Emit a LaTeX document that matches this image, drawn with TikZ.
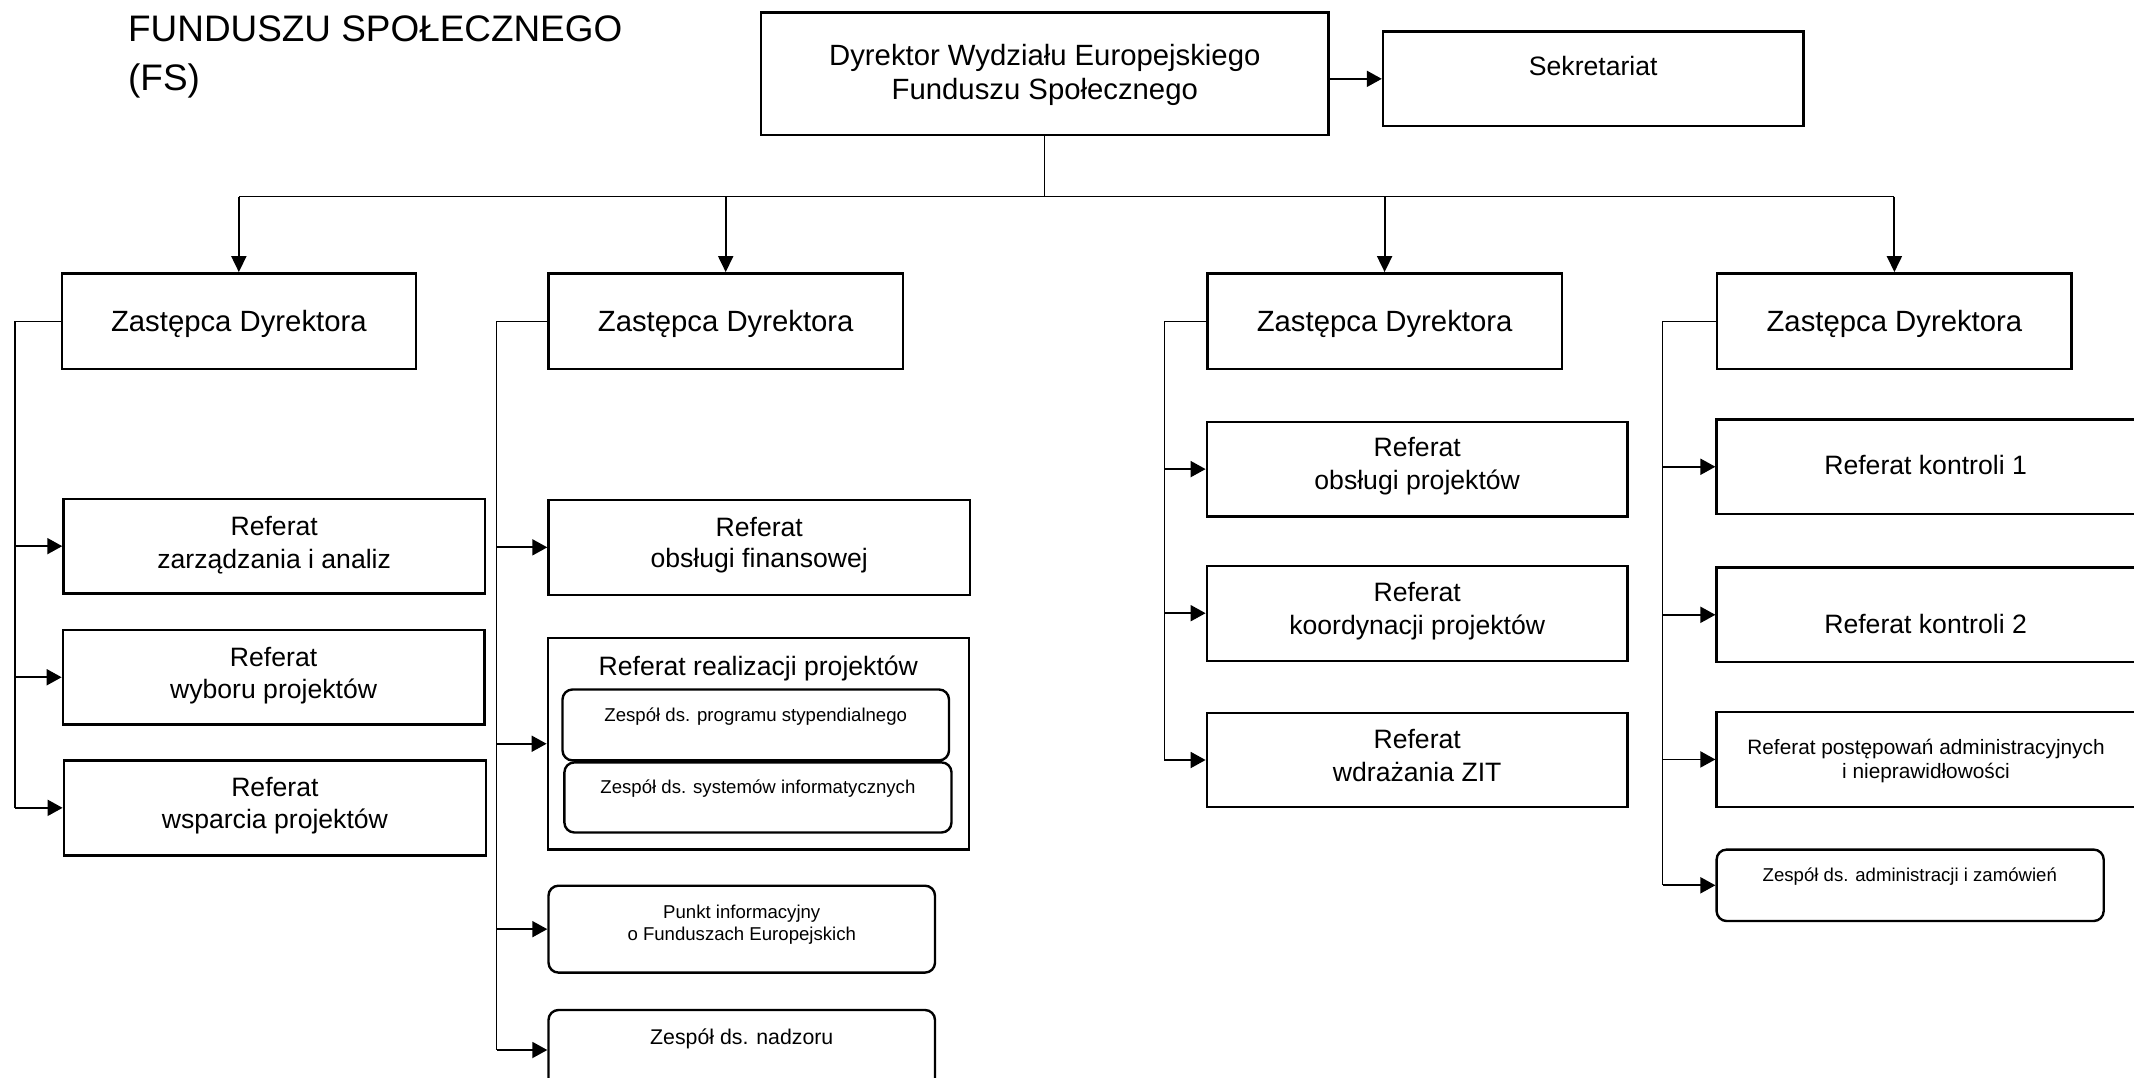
\documentclass[tikz,border=0pt]{standalone}
\usepackage{fontspec}
\setmainfont{Liberation Sans}
\usetikzlibrary{arrows.meta}
\begin{document}
\begin{tikzpicture}[x=1pt,y=-1pt,
  orgbox/.style={draw, line width=2.4pt, inner sep=0pt},
  roundbox/.style={draw, line width=2.4pt, inner sep=0pt, rounded corners=10pt},
  tline/.style={inner sep=0pt, anchor=base},
  fA/.style={font=\fontsize{29.3pt}{34pt}\selectfont},
  fB/.style={font=\fontsize{26.6pt}{31pt}\selectfont},
  fC/.style={font=\fontsize{18.6pt}{22pt}\selectfont},
  fD/.style={font=\fontsize{20.8pt}{24pt}\selectfont},
  fE/.style={font=\fontsize{21.3pt}{25pt}\selectfont},
  fT/.style={font=\fontsize{36.9pt}{43pt}\selectfont},
  thinline/.style={line width=1.3pt},
  stub/.style={line width=1.9pt, -{Triangle[length=15pt,width=16pt]}},
  drop/.style={line width=1.9pt, -{Triangle[length=16pt,width=15pt]}}
]
\useasboundingbox (0,0) rectangle (2134,1078);
\clip (0,0) rectangle (2134,1078);

% title
\node[tline, anchor=base west, fT] (title1) at (128,41.5) {FUNDUSZU SPOŁECZNEGO};
\node[tline, anchor=base west, fT] (title2) at (128,90.5) {(FS)};

% director and secretariat
\node[orgbox, minimum width=567.6pt, minimum height=122.3pt] (dir) at (1044.8,73.85) {};
\node[tline, fA] (dirt1) at (1044.8,66) {Dyrektor Wydziału Europejskiego};
\node[tline, fA] (dirt2) at (1044.8,100) {Funduszu Społecznego};
\node[orgbox, minimum width=420.5pt, minimum height=94.3pt] (sek) at (1593.25,78.85) {};
\node[tline, fB] (sekt) at (1593.25,76) {Sekretariat};

% deputies
\foreach \n/\cx in {z1/238.85, z2/725.7, z3/1384.6, z4/1894.4}{
  \node[orgbox, minimum width=354.3pt, minimum height=95.7pt] (\n) at (\cx,321.15) {};
  \node[tline, fA] (\n t) at (\cx,331.7) {Zastępca Dyrektora};
}

% column 1
\node[orgbox, minimum width=421.5pt, minimum height=94.5pt] (zarz) at (274.2,546.15) {};
\node[tline, fB] (zarzt1) at (274.2,535) {Referat};
\node[tline, fB] (zarzt2) at (274.2,568) {zarządzania i analiz};
\node[orgbox, minimum width=421.5pt, minimum height=94.1pt] (wyb) at (273.6,677.25) {};
\node[tline, fB] (wybt1) at (273.6,666.3) {Referat};
\node[tline, fB] (wybt2) at (273.6,698.3) {wyboru projektów};
\node[orgbox, minimum width=422.2pt, minimum height=94.9pt] (wsp) at (274.9,807.85) {};
\node[tline, fB] (wspt1) at (274.9,796.4) {Referat};
\node[tline, fB] (wspt2) at (274.9,828.5) {wsparcia projektów};

% column 2
\node[orgbox, minimum width=421.5pt, minimum height=95.3pt] (fin) at (759.25,547.35) {};
\node[tline, fB] (fint1) at (759.25,536.1) {Referat};
\node[tline, fB] (fint2) at (759.25,567.3) {obsługi finansowej};
\node[orgbox, minimum width=421pt, minimum height=211.1pt] (real) at (758.3,743.75) {};
\node[tline, fB] (realt) at (758.3,675) {Referat realizacji projektów};
\node[roundbox, minimum width=386.5pt, minimum height=70.9pt] (in1) at (755.75,724.95) {};
\node[tline, fC] (in1t) at (755.75,721.5) {Zespół ds. programu stypendialnego};
\node[roundbox, minimum width=387.1pt, minimum height=70.1pt] (in2) at (757.95,797.45) {};
\node[tline, fC] (in2t) at (757.95,793.6) {Zespół ds. systemów informatycznych};
\node[roundbox, minimum width=386.5pt, minimum height=86.9pt] (punkt) at (741.75,929.15) {};
\node[tline, fC] (punktt1) at (741.75,918.6) {Punkt informacyjny};
\node[tline, fC] (punktt2) at (741.75,940.6) {o Funduszach Europejskich};
\node[roundbox, minimum width=386.5pt, minimum height=80pt] (nadz) at (741.75,1050) {};
\node[tline, fE] (nadzt) at (741.75,1044) {Zespół ds. nadzoru};

% column 3
\node[orgbox, minimum width=420.8pt, minimum height=94.6pt] (obs) at (1417.2,469.1) {};
\node[tline, fB] (obst1) at (1417.2,456.8) {Referat};
\node[tline, fB] (obst2) at (1417.2,489) {obsługi projektów};
\node[orgbox, minimum width=420.8pt, minimum height=95pt] (koord) at (1417.2,613.2) {};
\node[tline, fB] (koordt1) at (1417.2,601.4) {Referat};
\node[tline, fB] (koordt2) at (1417.2,634.3) {koordynacji projektów};
\node[orgbox, minimum width=420.8pt, minimum height=94.2pt] (wdr) at (1417.2,760) {};
\node[tline, fB] (wdrt1) at (1417.2,748.6) {Referat};
\node[tline, fB] (wdrt2) at (1417.2,781.8) {wdrażania ZIT};

% column 4 (boxes run past the right edge)
\node[orgbox, minimum width=433.4pt, minimum height=94.3pt] (k1) at (1933.3,466.75) {};
\node[tline, fB] (k1t) at (1925.6,474.6) {Referat kontroli 1};
\node[orgbox, minimum width=433.4pt, minimum height=94.6pt] (k2) at (1933.3,614.8) {};
\node[tline, fB] (k2t) at (1925.6,633.6) {Referat kontroli 2};
\node[orgbox, minimum width=433.4pt, minimum height=94.7pt] (post) at (1933.3,759.45) {};
\node[tline, fD] (postt1) at (1926,754.3) {Referat postępowań administracyjnych};
\node[tline, fD] (postt2) at (1926,778.2) {i nieprawidłowości};
\node[roundbox, minimum width=387.1pt, minimum height=71.4pt] (adm) at (1910.15,885.3) {};
\node[tline, fC] (admt) at (1909.8,881) {Zespół ds. administracji i zamówień};

% connectors from director
\draw[stub] (dir.east |- sek.west) -- (sek.west);
\coordinate (busL) at (238.85,196.7);
\coordinate (busR) at (1894.4,196.7);
\draw[thinline] (dir.south) -- (dir.south |- busL);
\draw[thinline] (busL) -- (busR);
\foreach \n in {z1,z2,z3,z4}{
  \draw[drop] (\n.north |- busL) -- (\n.north);
}

% trunks
\coordinate (t1) at (15,321.15);
\coordinate (t2) at (496.5,321.15);
\coordinate (t3) at (1164.3,321.15);
\coordinate (t4) at (1662.8,321.15);
\draw[thinline] (z1.west) -- (t1) -- (t1 |- wsp.west);
\draw[thinline] (z2.west) -- (t2) -- (t2 |- nadz.west);
\draw[thinline] (z3.west) -- (t3) -- (t3 |- wdr.west);
\draw[thinline] (z4.west) -- (t4) -- (t4 |- adm.west);
\foreach \b in {zarz,wyb,wsp}{ \draw[stub] (t1 |- \b.west) -- (\b.west); }
\foreach \b in {fin,real,punkt,nadz}{ \draw[stub] (t2 |- \b.west) -- (\b.west); }
\foreach \b in {obs,koord,wdr}{ \draw[stub] (t3 |- \b.west) -- (\b.west); }
\foreach \b in {k1,k2,post,adm}{ \draw[stub] (t4 |- \b.west) -- (\b.west); }
\end{tikzpicture}
\end{document}
